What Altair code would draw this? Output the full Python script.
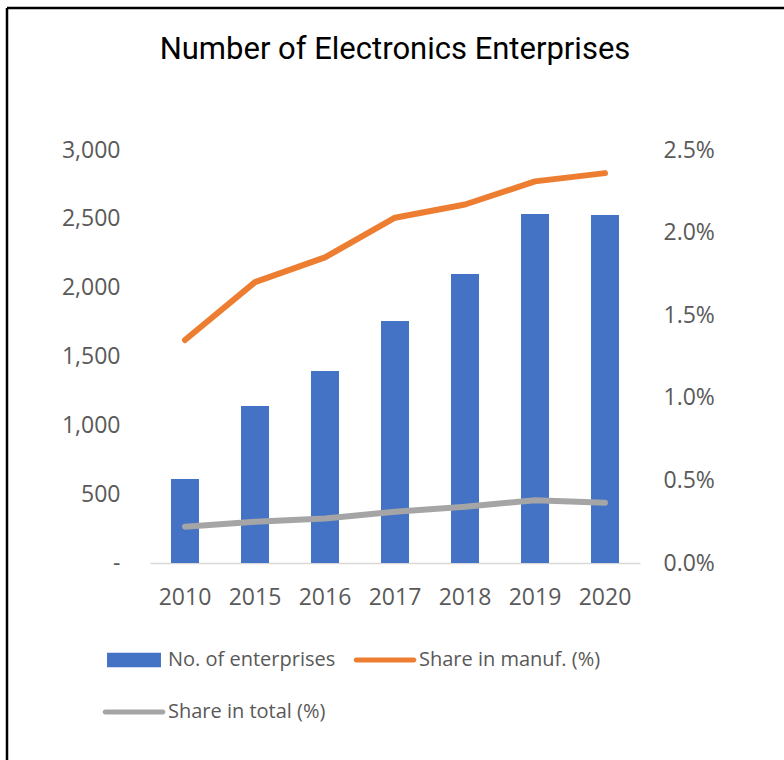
import altair as alt
import pandas as pd

years = ["2010", "2015", "2016", "2017", "2018", "2019", "2020"]
enterprises = [610, 1140, 1395, 1757, 2099, 2535, 2527]
share_manuf = [1.35, 1.70, 1.85, 2.09, 2.17, 2.31, 2.36]
share_total = [0.22, 0.25, 0.27, 0.31, 0.34, 0.38, 0.365]

series_names = ["No. of enterprises", "Share in manuf. (%)", "Share in total (%)"]
series_colors = ["#4472C4", "#ED7D31", "#A5A5A5"]
legend_shapes = [
    "M-0.87,-0.23H0.87V0.23H-0.87Z",
    "M-0.93,-0.08H0.93A0.08,0.08 0 0 1 0.93,0.08H-0.93A0.08,0.08 0 0 1 -0.93,-0.08Z",
    "M-0.93,-0.08H0.93A0.08,0.08 0 0 1 0.93,0.08H-0.93A0.08,0.08 0 0 1 -0.93,-0.08Z",
]

bar_df = pd.DataFrame({"year": years, "value": enterprises, "series": series_names[0]})
line_df = pd.concat([
    pd.DataFrame({"year": years, "value": share_manuf, "series": series_names[1]}),
    pd.DataFrame({"year": years, "value": share_total, "series": series_names[2]}),
])
legend_df = pd.DataFrame({"series": series_names})

FONT = "Open Sans"
LABEL_COLOR = "#595959"
FS = 23

color_scale = alt.Scale(domain=series_names, range=series_colors)
shape_scale = alt.Scale(domain=series_names, range=legend_shapes)

legend = alt.Legend(
    title=None, orient="none", legendX=-47, legendY=479, columns=2,
    direction="horizontal",
    labelFont=FONT, labelFontSize=20, labelColor=LABEL_COLOR,
    symbolSize=3844, labelOffset=3, columnPadding=17, rowPadding=11,
    symbolStrokeWidth=0, symbolOpacity=1, labelLimit=400,
)

x_enc = alt.X("year:N", sort=years, title=None,
              scale=alt.Scale(paddingInner=0.6, paddingOuter=0.3),
              axis=alt.Axis(labelAngle=0, labelFont=FONT, labelFontSize=FS,
                            labelColor=LABEL_COLOR, ticks=False, domainColor="#D9D9D9",
                            domainWidth=1.5, labelPadding=23, grid=False))

bars = alt.Chart(bar_df).mark_bar(size=28).encode(
    x=x_enc,
    y=alt.Y("value:Q", title=None, scale=alt.Scale(domain=[0, 3000]),
            axis=alt.Axis(values=[0, 500, 1000, 1500, 2000, 2500, 3000],
                          labelExpr="datum.value == 0 ? '-\u00a0\u00a0\u00a0' : format(datum.value, ',')",
                          labelFont=FONT, labelFontSize=FS, labelColor=LABEL_COLOR,
                          ticks=False, domain=False, grid=False, labelPadding=30)),
    color=alt.Color("series:N", scale=color_scale, legend=None),
)

lines = alt.Chart(line_df).mark_line(strokeWidth=6, strokeCap="round", strokeJoin="round").encode(
    x=alt.X("year:N", sort=years),
    y=alt.Y("value:Q", title=None, scale=alt.Scale(domain=[0, 2.5]),
            axis=alt.Axis(orient="right", values=[0, 0.5, 1.0, 1.5, 2.0, 2.5],
                          labelExpr="format(datum.value, '.1f') + '%'",
                          labelFont=FONT, labelFontSize=FS, labelColor=LABEL_COLOR,
                          ticks=False, domain=False, grid=False, labelPadding=23)),
    color=alt.Color("series:N", scale=color_scale, legend=None),
    detail="series:N",
)

legend_pts = alt.Chart(legend_df).mark_point(filled=True, opacity=0).encode(
    x=alt.value(0), y=alt.value(0),
    color=alt.Color("series:N", scale=color_scale, legend=legend),
    shape=alt.Shape("series:N", scale=shape_scale, legend=legend),
)

frame = alt.Chart(pd.DataFrame({"k": [0]})).mark_rule(color="#000000", strokeWidth=2.5).encode(
    x=alt.value(-143), x2=alt.value(640), y=alt.value(-142)
)
frame_left = alt.Chart(pd.DataFrame({"k": [0]})).mark_rule(color="#000000", strokeWidth=2.5).encode(
    x=alt.value(-143), y=alt.value(-142), y2=alt.value(620)
)

chart = alt.layer(bars, lines, legend_pts, frame, frame_left).resolve_scale(
    y="independent"
).resolve_legend(color="independent", shape="independent").properties(
    width=490, height=413,
    background="white",
    autosize=alt.AutoSizeParams(type="none"),
    padding={"left": 150, "top": 150, "right": 144, "bottom": 197},
    title=alt.Title("Number of Electronics Enterprises", font="Roboto", fontSize=31,
                    fontWeight="normal", color="#000000", anchor="middle", offset=-59,
                    frame="group"),
).configure_view(stroke=None)

chart.save("out.html", embed_options={"renderer": "svg", "actions": False})
